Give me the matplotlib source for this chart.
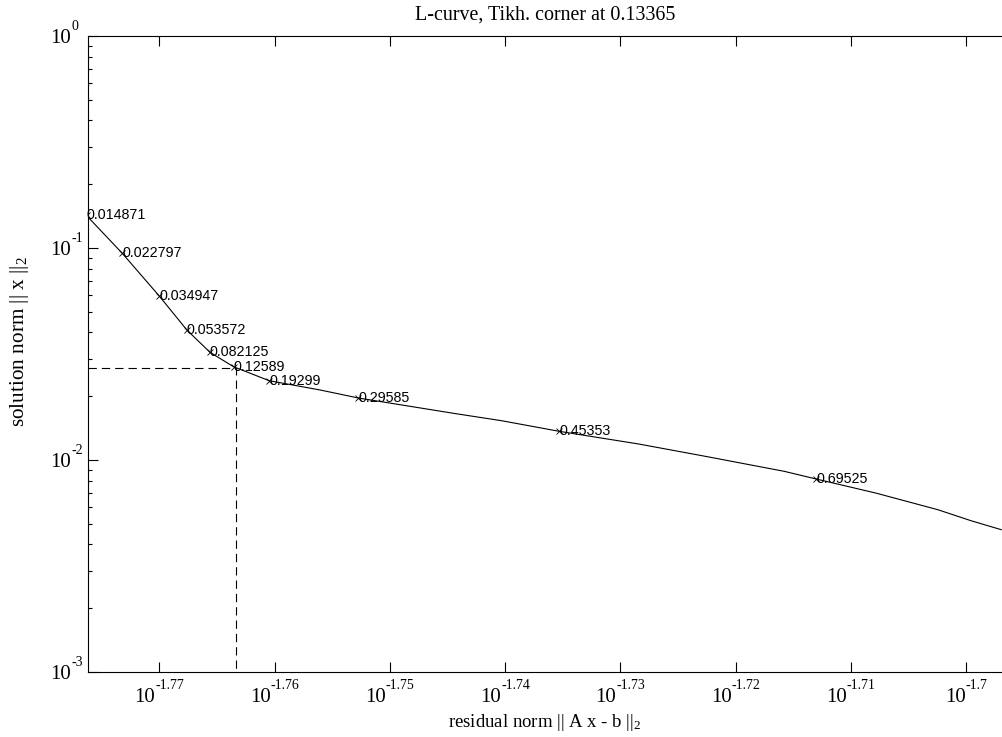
import numpy as np
import matplotlib.pyplot as plt
from matplotlib.ticker import FixedLocator, LogLocator, NullFormatter

plt.rcParams['font.family'] = 'Liberation Serif'
plt.rcParams['mathtext.fontset'] = 'custom'
plt.rcParams['mathtext.rm'] = 'Liberation Serif'
plt.rcParams['mathtext.it'] = 'Liberation Serif:italic'
plt.rcParams['lines.scale_dashes'] = False

# L-curve: residual norm (rho) vs solution norm (eta)
rho = [0.016737, 0.016857, 0.016982, 0.017076, 0.017155, 0.017236, 0.017359,
       0.017537, 0.017670, 0.018019, 0.018184, 0.018394, 0.018689, 0.018939,
       0.019240, 0.019364, 0.019595, 0.019840, 0.019972, 0.020093]
eta = [0.14233, 0.09441, 0.05937, 0.04104, 0.03221, 0.02754, 0.02366,
       0.021388, 0.01962, 0.016535, 0.015322, 0.01366, 0.011898, 0.010411,
       0.008845, 0.008133, 0.006986, 0.005828, 0.005171, 0.004691]

# labelled regularization parameters
lam_labels = ['0.014871', '0.022797', '0.034947', '0.053572', '0.082125',
              '0.12589', '0.19299', '0.29585', '0.45353', '0.69525']
rho_pts = [0.016737, 0.016857, 0.016982, 0.017076, 0.017155,
           0.017236, 0.017359, 0.017670, 0.018394, 0.019364]
eta_pts = [0.14233, 0.09441, 0.05937, 0.04104, 0.03221,
           0.02754, 0.02366, 0.01962, 0.01366, 0.008133]

reg_corner = 0.13365
rho_c = 0.017244
eta_c = 0.02707

xtick_exp = ['-1.77', '-1.76', '-1.75', '-1.74', '-1.73', '-1.72', '-1.71', '-1.7']
ytick_exp = ['0', '-1', '-2', '-3']
xlim = (0.016742, 0.020096)
ylim = (1e-3, 1e0)

fig = plt.figure(figsize=(10.02, 7.37), dpi=100)
ax = fig.add_axes([0.08782, 0.0882, 0.91218, 0.86296])
ax.set_xscale('log')
ax.set_yscale('log')

ax.plot(rho, eta, color='black', lw=0.8)
ax.plot(rho_pts, eta_pts, ls='none', marker='x', ms=4, mew=0.6, color='black')
for r, e, s in zip(rho_pts, eta_pts, lam_labels):
    ax.text(r, e, s, ha='left', va='center', fontsize=10.3,
            family='Liberation Sans', color='black')

ax.plot([xlim[0], rho_c, rho_c], [eta_c, eta_c, ylim[0]], color='black',
        lw=0.8, ls=(0, (6, 3.6)))

ax.set_xlim(xlim)
ax.set_ylim(ylim)

ax.xaxis.set_major_locator(FixedLocator([10 ** float(e) for e in xtick_exp]))
ax.xaxis.set_major_formatter(NullFormatter())
ax.xaxis.set_minor_locator(FixedLocator([]))
ax.yaxis.set_major_locator(FixedLocator([10 ** float(e) for e in ytick_exp]))
ax.yaxis.set_major_formatter(NullFormatter())
ax.yaxis.set_minor_locator(LogLocator(base=10, subs=np.arange(2, 10)))
ax.yaxis.set_minor_formatter(NullFormatter())

ax.tick_params(which='both', direction='in', top=True, right=False, width=0.8,
               color='black')
ax.tick_params(which='major', length=7)
ax.tick_params(which='minor', length=3.2)
ax.spines['right'].set_visible(False)
for s in ['left', 'top', 'bottom']:
    ax.spines[s].set_linewidth(0.8)

# MATLAB style tick labels: "10" with a small raised exponent
xlab = []
for e in xtick_exp:
    b = ax.annotate('10', (10 ** float(e), 0), xycoords=('data', 'axes fraction'),
                    xytext=(0, -30), textcoords='offset pixels',
                    ha='left', va='baseline', fontsize=15, annotation_clip=False)
    p = ax.annotate(e, (10 ** float(e), 0), xycoords=('data', 'axes fraction'),
                    xytext=(0, -17), textcoords='offset pixels',
                    ha='left', va='baseline', fontsize=10, annotation_clip=False)
    xlab.append((b, p))
for e in ytick_exp:
    ax.annotate('10', (0, 10 ** float(e)), xycoords=('axes fraction', 'data'),
                xytext=(-17, -7.5), textcoords='offset pixels',
                ha='right', va='baseline', fontsize=15, annotation_clip=False)
    ax.annotate(e, (0, 10 ** float(e)), xycoords=('axes fraction', 'data'),
                xytext=(-16, 6), textcoords='offset pixels',
                ha='left', va='baseline', fontsize=10, annotation_clip=False)

ax.set_title(f'L-curve, Tikh. corner at {reg_corner:g}', fontsize=14.4, pad=11.5)
ax.set_xlabel(r'residual norm || A x - b ||$_2$', fontsize=13.5, va='baseline')
ax.xaxis.set_label_coords(0.5, -0.0865)
ax.set_ylabel(r'solution norm || x ||$_2$', fontsize=15.3, va='center')
ax.yaxis.set_label_coords(-0.0744, 0.519)

fig.canvas.draw()
rend = fig.canvas.get_renderer()
for b, p in xlab:
    wb = b.get_window_extent(rend).width
    wp = p.get_window_extent(rend).width
    b.xyann = (-(wb + wp) / 2, -30)
    p.xyann = (-(wb + wp) / 2 + wb, -17)

fig.savefig('out.png', dpi=100)
